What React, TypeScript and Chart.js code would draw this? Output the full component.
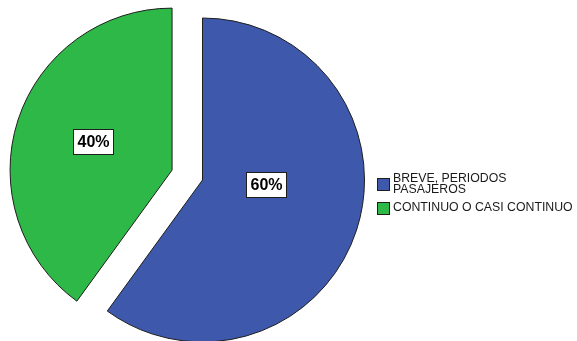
import React, { useEffect, useRef } from "react";
import { Chart, registerables } from "chart.js";

Chart.register(...registerables);

// ---- data ----
const categories: string[][] = [["BREVE, PERIODOS", "PASAJEROS"], ["CONTINUO O CASI CONTINUO"]];
const percentages: number[] = [60, 40];
const percentLabels: string[] = ["60%", "40%"];
const sliceColors: string[] = ["#3E58AC", "#2EB848"];

// ---- styling / layout ----
const EXPLODE = [0, 32]; // px each slice is pulled out along its mid angle
const LABEL_ANCHORS = [
  { angleFromTop: 94, frac: 0.39 },
  { angleFromTop: 290, frac: 0.52 },
];
const BORDER = "#1e1e1e";
const FONT = '"Liberation Sans", Arial, sans-serif';

const explodePlugin = {
  id: "explodeSlices",
  afterDatasetUpdate(chart: any, args: any) {
    const meta = chart.getDatasetMeta(args.index);
    meta.data.forEach((arc: any, i: number) => {
      const d = EXPLODE[i] || 0;
      if (!d) return;
      const mid = (arc.startAngle + arc.endAngle) / 2;
      arc.x += Math.cos(mid) * d;
      arc.y += Math.sin(mid) * d;
    });
  },
};

const labelPlugin = {
  id: "boxedLabels",
  afterDatasetsDraw(chart: any) {
    const ctx = chart.ctx as CanvasRenderingContext2D;
    const meta = chart.getDatasetMeta(0);
    ctx.save();
    ctx.font = `bold 16px ${FONT}`;
    ctx.textAlign = "center";
    ctx.textBaseline = "middle";
    meta.data.forEach((arc: any, i: number) => {
      const a = LABEL_ANCHORS[i];
      const ang = ((a.angleFromTop - 90) * Math.PI) / 180;
      const r = arc.outerRadius * a.frac;
      const lx = arc.x + Math.cos(ang) * r;
      const ly = arc.y + Math.sin(ang) * r;
      const text = percentLabels[i];
      const w = Math.round(ctx.measureText(text).width + 8);
      const h = 25;
      const bx = Math.round(lx - w / 2) + 0.5;
      const by = Math.round(ly - h / 2) + 0.5;
      ctx.fillStyle = "#ffffff";
      ctx.fillRect(bx, by, w, h);
      ctx.strokeStyle = BORDER;
      ctx.lineWidth = 1;
      ctx.strokeRect(bx, by, w, h);
      ctx.fillStyle = "#000000";
      ctx.fillText(text, bx + w / 2, by + h / 2 + 1);
    });
    ctx.restore();
  },
};

const legendPlugin = {
  id: "sideLegend",
  afterDraw(chart: any) {
    const ctx = chart.ctx as CanvasRenderingContext2D;
    const ds = chart.data.datasets[0];
    const labels = chart.data.labels as string[][];
    const x0 = 377.5;
    const textX = 393;
    const lineH = 11.5;
    const capH = 8.8;
    const gap = 6.5;
    let baseline = 181.5;
    ctx.save();
    ctx.font = `12.3px ${FONT}`;
    ctx.textAlign = "left";
    ctx.textBaseline = "alphabetic";
    labels.forEach((lines, i) => {
      const first = baseline;
      lines.forEach((line, j) => {
        ctx.fillStyle = "#1a1a1a";
        ctx.fillText(line, textX, baseline);
        if (j < lines.length - 1) baseline += lineH;
      });
      const center = (first - capH + baseline) / 2 + 1;
      const bs = 12;
      const by = Math.round(center - bs / 2) + 0.5;
      ctx.fillStyle = ds.backgroundColor[i];
      ctx.fillRect(x0, by, bs, bs);
      ctx.strokeStyle = BORDER;
      ctx.lineWidth = 1;
      ctx.strokeRect(x0, by, bs, bs);
      baseline += lineH + gap;
    });
    ctx.restore();
  },
};

export default function App() {
  const ref = useRef<HTMLCanvasElement | null>(null);
  useEffect(() => {
    if (!ref.current) return;
    const chart = new Chart(ref.current, {
      type: "pie",
      data: {
        labels: categories as any,
        datasets: [
          {
            data: percentages,
            backgroundColor: sliceColors,
            borderColor: BORDER,
            borderWidth: 1,
          },
        ],
      },
      options: {
        responsive: false,
        animation: false,
        events: [],
        radius: 162,
        layout: { padding: { left: 0, right: 172, top: 19, bottom: 0 } },
        plugins: {
          legend: { display: false },
          tooltip: { enabled: false },
        },
      } as any,
      plugins: [explodePlugin, labelPlugin, legendPlugin],
    });
    return () => chart.destroy();
  }, []);
  return (
    <canvas
      ref={ref}
      width={577}
      height={341}
      style={{ position: "absolute", left: 0, top: 0, width: 577, height: 341, background: "#ffffff" }}
    />
  );
}
